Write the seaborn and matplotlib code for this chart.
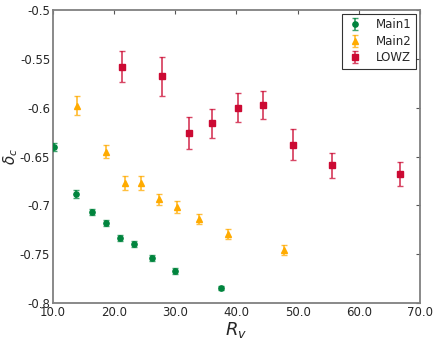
import numpy as np
import pandas as pd
import matplotlib
matplotlib.use("Agg")
import matplotlib.pyplot as plt
import seaborn as sns

# Main1 sample
main1_r = [10.2, 13.8, 16.3, 18.6, 20.9, 23.3, 26.2, 30.0, 37.5]
main1_d = [-0.640, -0.688, -0.707, -0.718, -0.733, -0.740, -0.754, -0.767, -0.785]
main1_e = [0.004, 0.004, 0.003, 0.003, 0.003, 0.003, 0.003, 0.003, 0.002]

# Main2 sample
main2_r = [13.9, 18.7, 21.7, 24.4, 27.3, 30.2, 33.9, 38.6, 47.7]
main2_d = [-0.598, -0.645, -0.677, -0.677, -0.694, -0.702, -0.714, -0.729, -0.746]
main2_e = [0.010, 0.007, 0.007, 0.007, 0.006, 0.006, 0.005, 0.005, 0.005]

# LOWZ sample
lowz_r = [21.3, 27.9, 32.3, 36.0, 40.2, 44.4, 49.2, 55.7, 66.7]
lowz_d = [-0.558, -0.568, -0.626, -0.616, -0.600, -0.597, -0.638, -0.659, -0.668]
lowz_e = [0.016, 0.020, 0.016, 0.015, 0.015, 0.0145, 0.016, 0.013, 0.012]

x_ticks = [10, 20, 30, 40, 50, 60, 70]
x_labels = ["10.0", "20.0", "30.0", "40.0", "50.0", "60.0", "70.0"]
y_ticks = [-0.8, -0.75, -0.7, -0.65, -0.6, -0.55, -0.5]
y_labels = ["-0.8", "-0.75", "-0.7", "-0.65", "-0.6", "-0.55", "-0.5"]

sns.set_style("white")
plt.rcParams["font.family"] = ["DejaVu Sans"]
plt.rcParams["mathtext.fontset"] = "dejavusans"

df = pd.concat([
    pd.DataFrame({"R": main1_r, "d": main1_d, "e": main1_e, "sample": "Main1"}),
    pd.DataFrame({"R": main2_r, "d": main2_d, "e": main2_e, "sample": "Main2"}),
    pd.DataFrame({"R": lowz_r, "d": lowz_d, "e": lowz_e, "sample": "LOWZ"}),
])

colors = {"Main1": "#00843d", "Main2": "#ffab00", "LOWZ": "#cc0a33"}
markers = {"Main1": "o", "Main2": "^", "LOWZ": "s"}
msizes = {"Main1": 3.8, "Main2": 4.5, "LOWZ": 4.5}

fig = plt.figure(figsize=(4.36, 3.41), dpi=100)
ax = fig.add_axes([0.1216, 0.1114, 0.8414, 0.8593])

for name, grp in df.groupby("sample", sort=False):
    ax.errorbar(grp["R"], grp["d"], yerr=grp["e"], fmt=markers[name],
                color=colors[name], ms=msizes[name], mec=colors[name],
                ecolor=matplotlib.colors.to_rgba(colors[name], 0.75),
                elinewidth=1.3, capsize=2, capthick=1, label=name, zorder=3)

ax.set_xlim(10, 70)
ax.set_ylim(-0.8, -0.5)
ax.set_xticks(x_ticks)
ax.set_xticklabels(x_labels)
ax.set_yticks(y_ticks)
ax.set_yticklabels(y_labels)

for sp in ax.spines.values():
    sp.set_color("#808080")
    sp.set_linewidth(1.3)
ax.tick_params(direction="in", length=3, width=0.8, color="#555555",
               top=True, right=True, labelsize=8.5, pad=2)

ax.set_xlabel(r"$R_v$", fontsize=13, labelpad=1)
ax.set_ylabel(r"$\delta_c$", fontsize=11)
ax.yaxis.set_label_coords(-0.089, 0.5)

leg = ax.legend(loc="upper right", numpoints=1, fontsize=8.5, fancybox=False,
                frameon=True, borderaxespad=0.3, handlelength=1.4,
                handletextpad=1.1, labelspacing=0.3)
leg.get_frame().set_edgecolor("black")
leg.get_frame().set_linewidth(0.8)

fig.savefig("out.png", dpi=100)
